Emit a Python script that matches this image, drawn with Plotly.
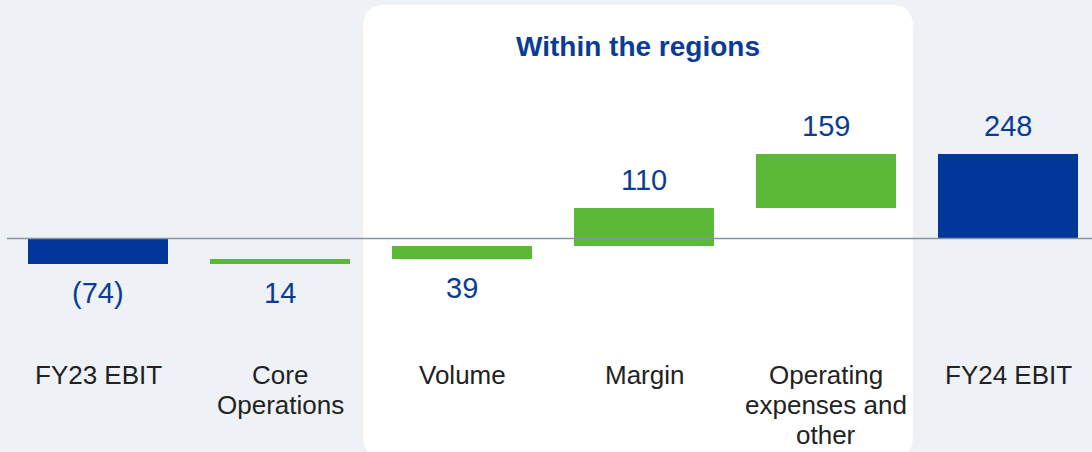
import plotly.graph_objects as go

categories = ["FY23 EBIT", "Core<br>Operations", "Volume", "Margin",
              "Operating<br>expenses and<br>other", "FY24 EBIT"]
values = [-74, 14, 39, 110, 159, 248]
measures = ["absolute", "relative", "relative", "relative", "relative", "total"]
value_labels = ["(74)", "14", "39", "110", "159", "248"]
group_title = "Within the regions"

W, H = 1092, 452
BLUE = "#003798"
GREEN = "#5CB837"
TEXT_BLUE = "#0A3C96"
BG = "#EEF2F6"

# compute floating bar bases from the data
bases, heights, colors = [], [], []
running = 0
for v, m in zip(values, measures):
    if m == "absolute":
        bases.append(min(0, v)); heights.append(abs(v)); running = v; colors.append(BLUE)
    elif m == "total":
        bases.append(min(0, running)); heights.append(abs(running)); colors.append(BLUE)
    else:
        lo, hi = sorted([running, running + v])
        bases.append(lo); heights.append(hi - lo); running += v; colors.append(GREEN)

x = list(range(len(categories)))
fig = go.Figure()
fig.add_trace(go.Bar(x=x, y=heights, base=bases, width=0.77,
                     marker=dict(color=colors, line=dict(width=0)),
                     hoverinfo="skip"))

# px/unit scaling
ppu = 0.3427
zero_px = 238.5
ymax = zero_px / ppu
ymin = -(H - zero_px) / ppu
x0 = -98 / 182
x1 = x0 + W / 182

annotations = []
for i, (b, h, v) in enumerate(zip(bases, heights, value_labels)):
    top = b + h
    if b < 0 and top <= 0:
        annotations.append(dict(x=i, y=b, text=v, showarrow=False, yanchor="middle",
                                yshift=-29, font=dict(size=29, color=TEXT_BLUE)))
    else:
        annotations.append(dict(x=i, y=top, text=v, showarrow=False, yanchor="middle",
                                yshift=28, font=dict(size=29, color=TEXT_BLUE)))
for i, c in enumerate(categories):
    for k, line in enumerate(c.split("<br>")):
        annotations.append(dict(x=i, y=1 - (375 + 30 * k) / H, yref="paper", text=line,
                                showarrow=False, yanchor="middle", align="center",
                                font=dict(size=26, color="#222222")))
annotations.append(dict(x=(363 + 913) / 2 / W, xref="paper", y=1 - 46 / H, yref="paper",
                        text="<b>" + group_title + "</b>", showarrow=False,
                        yanchor="middle", font=dict(size=28, color=TEXT_BLUE)))

# rounded white panel (paper coords)
def px(xp): return xp / W
def py(yp): return 1 - yp / H
L, R, T, B, r = 363, 913, 5, 458, 22
path = (f"M {px(L+r)},{py(T)} L {px(R-r)},{py(T)} Q {px(R)},{py(T)} {px(R)},{py(T+r)} "
        f"L {px(R)},{py(B-r)} Q {px(R)},{py(B)} {px(R-r)},{py(B)} "
        f"L {px(L+r)},{py(B)} Q {px(L)},{py(B)} {px(L)},{py(B-r)} "
        f"L {px(L)},{py(T+r)} Q {px(L)},{py(T)} {px(L+r)},{py(T)} Z")
shapes = [
    dict(type="path", path=path, xref="paper", yref="paper", fillcolor="white",
         line=dict(width=0), layer="below"),
    dict(type="line", xref="paper", x0=7 / W, x1=1, yref="y", y0=0, y1=0,
         line=dict(color="#8A949E", width=1.5), layer="above"),
]

fig.update_layout(
    width=W, height=H, margin=dict(l=0, r=0, t=0, b=0),
    paper_bgcolor=BG, plot_bgcolor=BG,
    font=dict(family="Liberation Sans, Arial, sans-serif"),
    showlegend=False, bargap=0,
    xaxis=dict(range=[x0, x1], visible=False, fixedrange=True),
    yaxis=dict(range=[ymin, ymax], visible=False, fixedrange=True),
    annotations=annotations, shapes=shapes,
)
fig.write_html("out.html", config={"displayModeBar": False},
               post_script="document.body.style.margin='0';document.body.style.overflow='hidden';")
